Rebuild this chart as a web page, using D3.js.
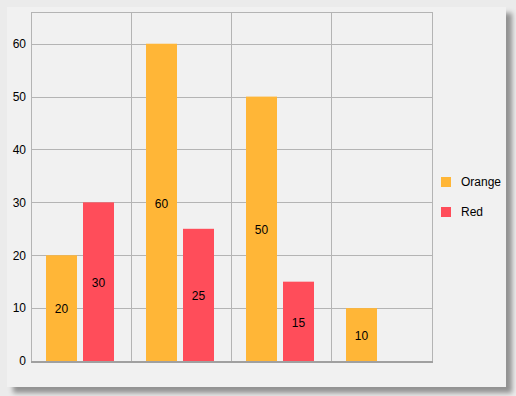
<!DOCTYPE html>
<html>
<head>
<meta charset="utf-8">
<script src="https://cdn.jsdelivr.net/npm/d3@7"></script>
<style>
  html, body { margin: 0; padding: 0; background: #ebebeb; }
  svg { display: block; }
  text { font-family: "Liberation Sans", "DejaVu Sans", sans-serif; font-size: 12px; fill: #000; }
</style>
</head>
<body>
<svg id="chart" width="516" height="396"></svg>
<script>
// Chart data
const categories = ["A", "B", "C", "D"];
const seriesNames = ["Orange", "Red"];
const orangeValues = [20, 60, 50, 10];
const redValues = [30, 25, 15, null];
const yTicks = [0, 10, 20, 30, 40, 50, 60];
const seriesColors = ["#ffb637", "#ff4d5a"];

const seriesValues = [orangeValues, redValues];

const svg = d3.select("#chart");

// Panel with soft drop shadow
const defs = svg.append("defs");
const f = defs.append("filter").attr("id", "shadow")
  .attr("x", "-5%").attr("y", "-5%").attr("width", "115%").attr("height", "115%");
f.append("feDropShadow").attr("dx", 6).attr("dy", 6).attr("stdDeviation", 2.5)
  .attr("flood-color", "#000").attr("flood-opacity", 0.38);

svg.append("rect").attr("x", 7).attr("y", 7).attr("width", 499).attr("height", 380)
  .attr("fill", "#f1f1f1").attr("filter", "url(#shadow)");

const plot = { left: 31, top: 12, right: 432, bottom: 361 };

const x0 = d3.scaleBand().domain(categories).range([plot.left, plot.right]).paddingInner(0).paddingOuter(0);
const bw = x0.bandwidth();
const x1 = d3.scaleBand().domain(seriesNames)
  .range([bw * 0.15, bw * 0.83]).paddingInner(0.162).paddingOuter(0);
const y = d3.scaleLinear().domain([0, 66]).range([plot.bottom, plot.top]);
const color = d3.scaleOrdinal().domain(seriesNames).range(seriesColors);

const g = svg.append("g");

// Horizontal gridlines
g.selectAll("line.hgrid").data(yTicks.filter(t => t > 0)).enter().append("line")
  .attr("x1", plot.left).attr("x2", plot.right)
  .attr("y1", d => Math.round(y(d)) + 0.5).attr("y2", d => Math.round(y(d)) + 0.5)
  .attr("stroke", "#b4b4b4").attr("stroke-width", 1);

// Top frame line
g.append("line").attr("x1", plot.left).attr("x2", plot.right)
  .attr("y1", plot.top + 0.5).attr("y2", plot.top + 0.5)
  .attr("stroke", "#b4b4b4");

// Vertical gridlines at band boundaries
const vLines = categories.map(c => x0(c)).concat([plot.right]);
g.selectAll("line.vgrid").data(vLines).enter().append("line")
  .attr("x1", d => Math.floor(d) + 0.5).attr("x2", d => Math.floor(d) + 0.5)
  .attr("y1", plot.top).attr("y2", plot.bottom)
  .attr("stroke", "#b4b4b4").attr("stroke-width", 1);

// Bars
const rows = [];
categories.forEach((c, i) => {
  seriesNames.forEach((s, j) => {
    const v = seriesValues[j][i];
    if (v != null) rows.push({ c, s, v });
  });
});

const barX = d => Math.floor(x0(d.c) + x1(d.s));
const bars = g.selectAll("g.bar").data(rows).enter().append("g");
bars.append("rect")
  .attr("x", barX)
  .attr("width", Math.round(x1.bandwidth()))
  .attr("y", d => y(d.v))
  .attr("height", d => y(0) - y(d.v))
  .attr("fill", d => color(d.s));
bars.append("text")
  .attr("x", d => barX(d) + Math.round(x1.bandwidth()) / 2)
  .attr("y", d => (y(d.v) + y(0)) / 2 + 1)
  .attr("dy", "0.35em")
  .attr("text-anchor", "middle")
  .text(d => d.v);

// Baseline
g.append("line").attr("x1", plot.left).attr("x2", plot.right + 1)
  .attr("y1", plot.bottom + 1).attr("y2", plot.bottom + 1)
  .attr("stroke", "#a0a0a0").attr("stroke-width", 2);

// Y axis
const yAxis = d3.axisLeft(y).tickValues(yTicks).tickSize(0).tickPadding(5);
const ya = svg.append("g").attr("transform", `translate(${plot.left},0)`).call(yAxis);
ya.select(".domain").remove();
ya.selectAll("text").attr("font-family", "Liberation Sans, DejaVu Sans, sans-serif").attr("font-size", 12).attr("fill", "#000");

// Legend
const legend = svg.append("g").attr("transform", "translate(441,177)");
const li = legend.selectAll("g").data(seriesNames).enter().append("g")
  .attr("transform", (d, i) => `translate(0,${i * 30})`);
li.append("rect").attr("width", 10).attr("height", 10).attr("fill", d => color(d));
li.append("text").attr("x", 20).attr("y", 5).attr("dy", "0.35em").text(d => d);
</script>
</body>
</html>
